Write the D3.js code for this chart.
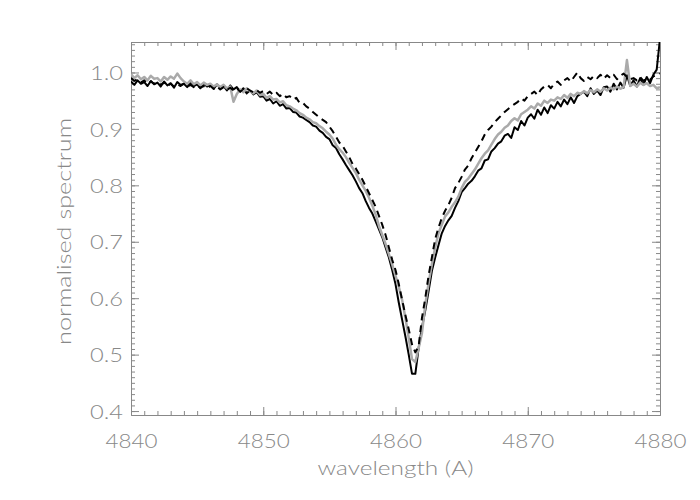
<!DOCTYPE html>
<html>
<head>
<meta charset="utf-8">
<script src="https://cdn.jsdelivr.net/npm/d3@7"></script>
<style>
  body { margin: 0; background: #fff; }
  svg { display: block; }
  .axis path, .axis line { stroke: #888; stroke-width: 1; }
  .axis text { fill: #888; font-family: Lato, "DejaVu Sans", sans-serif; font-weight: 300; font-size: 20px; }
  .title { fill: #888; font-family: Lato, "DejaVu Sans", sans-serif; font-weight: 300; font-size: 20px; }
</style>
</head>
<body>
<svg id="chart"></svg>
<script>
// wavelength grid (A), one sample every 0.25 A
const lambdaStart = 4840;
const lambdaStep = 0.25;

// black solid spectrum
const fluxBlack = [
  0.984, 0.978, 0.986, 0.980, 0.983, 0.976, 0.985, 0.979,
  0.982, 0.975, 0.984, 0.977, 0.981, 0.973, 0.983, 0.978,
  0.980, 0.974, 0.982, 0.976, 0.979, 0.972, 0.980, 0.975,
  0.978, 0.971, 0.979, 0.973, 0.976, 0.968, 0.977, 0.970,
  0.974, 0.966, 0.972, 0.963, 0.968, 0.961, 0.965, 0.957,
  0.958, 0.950, 0.953, 0.945, 0.949, 0.941, 0.944, 0.936,
  0.937, 0.930, 0.929, 0.922, 0.920, 0.916, 0.912, 0.906,
  0.904, 0.897, 0.893, 0.886, 0.882, 0.871, 0.866, 0.855,
  0.846, 0.836, 0.827, 0.818, 0.807, 0.795, 0.786, 0.772,
  0.760, 0.750, 0.736, 0.722, 0.708, 0.690, 0.672, 0.650,
  0.625, 0.592, 0.562, 0.532, 0.500, 0.466, 0.466, 0.512,
  0.548, 0.578, 0.612, 0.648, 0.672, 0.694, 0.715, 0.728,
  0.738, 0.746, 0.760, 0.772, 0.788, 0.795, 0.803, 0.808,
  0.816, 0.826, 0.830, 0.844, 0.846, 0.860, 0.866, 0.874,
  0.878, 0.888, 0.891, 0.884, 0.903, 0.898, 0.914, 0.906,
  0.920, 0.926, 0.918, 0.934, 0.925, 0.938, 0.928, 0.942,
  0.936, 0.948, 0.940, 0.952, 0.944, 0.956, 0.946, 0.958,
  0.962, 0.966, 0.958, 0.972, 0.962, 0.968, 0.960, 0.974,
  0.975, 0.966, 0.980, 0.970, 0.982, 0.973, 0.995, 0.976,
  0.986, 0.975, 0.990, 0.978, 0.992, 0.981, 0.996, 1.005,
  1.060
];

// grey solid spectrum
const fluxGrey = [
  0.997, 0.990, 0.995, 0.988, 0.992, 0.986, 0.994, 0.989,
  0.990, 0.984, 0.992, 0.987, 0.993, 0.989, 0.998, 0.990,
  0.984, 0.980, 0.986, 0.979, 0.983, 0.977, 0.982, 0.978,
  0.980, 0.975, 0.979, 0.974, 0.978, 0.972, 0.975, 0.948,
  0.962, 0.970, 0.965, 0.972, 0.967, 0.963, 0.968, 0.960,
  0.962, 0.955, 0.958, 0.952, 0.953, 0.947, 0.949, 0.942,
  0.940, 0.936, 0.933, 0.928, 0.925, 0.920, 0.917, 0.912,
  0.910, 0.905, 0.901, 0.895, 0.890, 0.883, 0.872, 0.864,
  0.858, 0.850, 0.840, 0.831, 0.822, 0.810, 0.800, 0.790,
  0.778, 0.764, 0.748, 0.728, 0.712, 0.696, 0.678, 0.660,
  0.640, 0.620, 0.597, 0.565, 0.530, 0.492, 0.487, 0.512,
  0.538, 0.588, 0.626, 0.660, 0.690, 0.715, 0.730, 0.745,
  0.752, 0.762, 0.770, 0.780, 0.795, 0.806, 0.812, 0.820,
  0.828, 0.838, 0.848, 0.856, 0.862, 0.872, 0.882, 0.890,
  0.895, 0.902, 0.906, 0.914, 0.919, 0.915, 0.926, 0.930,
  0.934, 0.940, 0.936, 0.945, 0.941, 0.950, 0.946, 0.952,
  0.950, 0.956, 0.953, 0.960, 0.955, 0.962, 0.958, 0.964,
  0.962, 0.967, 0.963, 0.969, 0.965, 0.970, 0.966, 0.972,
  0.968, 0.973, 0.970, 0.975, 0.971, 0.974, 1.022, 0.976,
  0.980, 0.975, 0.982, 0.978, 0.981, 0.976, 0.978, 0.972,
  0.974
];

// black dashed spectrum
const fluxDashed = [
  0.990, 0.985, 0.988, 0.982, 0.986, 0.980, 0.984, 0.980,
  0.983, 0.978, 0.982, 0.976, 0.980, 0.975, 0.979, 0.976,
  0.980, 0.975, 0.978, 0.974, 0.977, 0.973, 0.976, 0.972,
  0.976, 0.971, 0.975, 0.970, 0.974, 0.969, 0.973, 0.968,
  0.972, 0.966, 0.970, 0.972, 0.968, 0.965, 0.969, 0.964,
  0.967, 0.962, 0.966, 0.960, 0.964, 0.958, 0.962, 0.956,
  0.958, 0.952, 0.955, 0.946, 0.946, 0.940, 0.936, 0.930,
  0.925, 0.920, 0.916, 0.912, 0.904, 0.896, 0.886, 0.876,
  0.870, 0.860, 0.850, 0.838, 0.830, 0.820, 0.810, 0.798,
  0.786, 0.774, 0.762, 0.746, 0.730, 0.712, 0.690, 0.668,
  0.650, 0.625, 0.597, 0.570, 0.545, 0.518, 0.504, 0.515,
  0.565, 0.600, 0.640, 0.672, 0.705, 0.725, 0.742, 0.755,
  0.765, 0.778, 0.795, 0.804, 0.815, 0.828, 0.835, 0.848,
  0.858, 0.868, 0.878, 0.890, 0.898, 0.904, 0.912, 0.918,
  0.924, 0.930, 0.935, 0.940, 0.944, 0.948, 0.954, 0.950,
  0.958, 0.962, 0.966, 0.960, 0.970, 0.975, 0.978, 0.972,
  0.980, 0.984, 0.978, 0.986, 0.990, 0.984, 0.992, 1.000,
  0.990, 0.985, 0.992, 0.988, 0.994, 0.990, 0.996, 0.989,
  0.995, 0.990, 0.996, 0.988, 0.994, 0.998, 0.992, 0.988,
  0.990, 0.986, 0.992, 0.985, 0.990, 0.987, 0.993, 0.995,
  0.998
];

// axis ranges and tick labels
const xDomain = [4840, 4880];
const yDomain = [0.393, 1.054];
const xMajorTicks = [4840, 4850, 4860, 4870, 4880];
const yMajorTicks = [0.4, 0.5, 0.6, 0.7, 0.8, 0.9, 1.0];
const xLabel = "wavelength (A)";
const yLabel = "normalised spectrum";

const width = 700;
const height = 500;
const margin = { top: 42, right: 40, bottom: 85, left: 131 };

const svg = d3.select("#chart").attr("width", width).attr("height", height);

const x = d3.scaleLinear().domain(xDomain).range([margin.left, width - margin.right]);
const y = d3.scaleLinear().domain(yDomain).range([height - margin.bottom, margin.top]);

// minor ticks every 1 A and every 0.01
const xMinorTicks = d3.range(xDomain[0], xDomain[1] + 0.5, 1);
const yMinorTicks = d3.range(40, 106).map((v) => v / 100);

// Minor ticks (no labels)
const minorAxes = [
  [d3.axisBottom(x).tickValues(xMinorTicks), `translate(0,${y.range()[0]})`],
  [d3.axisTop(x).tickValues(xMinorTicks), `translate(0,${y.range()[1]})`],
  [d3.axisLeft(y).tickValues(yMinorTicks), `translate(${x.range()[0]},0)`],
  [d3.axisRight(y).tickValues(yMinorTicks), `translate(${x.range()[1]},0)`],
];
minorAxes.forEach(([axis, tr]) => {
  svg.append("g")
    .attr("class", "axis")
    .attr("transform", tr)
    .call(axis.tickSize(-4).tickSizeOuter(0).tickFormat(""));
});

// Major ticks
svg.append("g")
  .attr("class", "axis")
  .attr("transform", `translate(0,${y.range()[0]})`)
  .call(d3.axisBottom(x).tickValues(xMajorTicks).tickSize(-8).tickSizeOuter(0).tickPadding(19).tickFormat(d3.format("d")))
  .call((g) => g.selectAll("text").attr("textLength", 52).attr("lengthAdjust", "spacingAndGlyphs"));

svg.append("g")
  .attr("class", "axis")
  .attr("transform", `translate(0,${y.range()[1]})`)
  .call(d3.axisTop(x).tickValues(xMajorTicks).tickSize(-8).tickSizeOuter(0).tickFormat(""));

svg.append("g")
  .attr("class", "axis")
  .attr("transform", `translate(${x.range()[0]},0)`)
  .call(d3.axisLeft(y).tickValues(yMajorTicks).tickSize(-8).tickSizeOuter(0).tickPadding(8).tickFormat(d3.format(".1f")))
  .call((g) => g.selectAll("text").attr("dy", "0.36em").attr("textLength", 33).attr("lengthAdjust", "spacingAndGlyphs"));

svg.append("g")
  .attr("class", "axis")
  .attr("transform", `translate(${x.range()[1]},0)`)
  .call(d3.axisRight(y).tickValues(yMajorTicks).tickSize(-8).tickSizeOuter(0).tickFormat(""));

// Axis titles
svg.append("text")
  .attr("class", "title")
  .attr("x", (x.range()[0] + x.range()[1]) / 2)
  .attr("y", 475)
  .attr("text-anchor", "middle")
  .attr("textLength", 156)
  .attr("lengthAdjust", "spacingAndGlyphs")
  .text(xLabel);

svg.append("text")
  .attr("class", "title")
  .attr("transform", `translate(71,${(y.range()[0] + y.range()[1]) / 2 + 3}) rotate(-90)`)
  .attr("text-anchor", "middle")
  .attr("textLength", 227)
  .attr("lengthAdjust", "spacingAndGlyphs")
  .text(yLabel);

// Spectra, clipped to the plot box
svg.append("clipPath")
  .attr("id", "plot-clip")
  .append("rect")
  .attr("x", x.range()[0])
  .attr("y", y.range()[1])
  .attr("width", x.range()[1] - x.range()[0])
  .attr("height", y.range()[0] - y.range()[1]);

const line = d3.line()
  .x((d, i) => x(lambdaStart + i * lambdaStep))
  .y((d) => y(d));

const series = [
  { values: fluxBlack, color: "#000", width: 2, dash: null },
  { values: fluxGrey, color: "#aaa", width: 2.5, dash: null },
  { values: fluxDashed, color: "#000", width: 2, dash: "7,5" },
];

svg.append("g")
  .attr("clip-path", "url(#plot-clip)")
  .selectAll("path")
  .data(series)
  .join("path")
  .attr("fill", "none")
  .attr("stroke", (d) => d.color)
  .attr("stroke-width", (d) => d.width)
  .attr("stroke-dasharray", (d) => d.dash)
  .attr("stroke-linejoin", "round")
  .attr("d", (d) => line(d.values));
</script>
</body>
</html>
